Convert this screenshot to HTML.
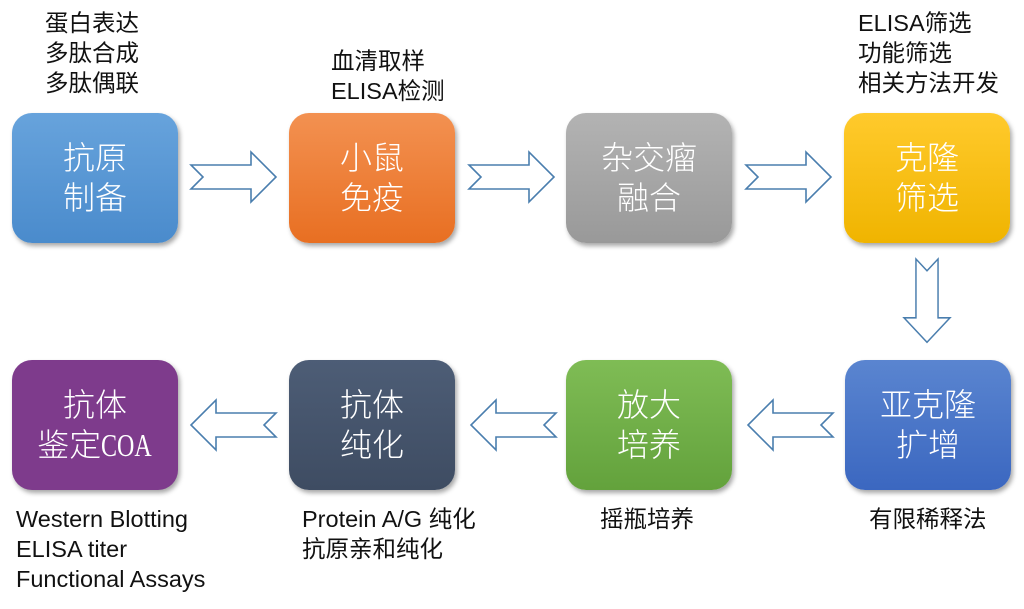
<!DOCTYPE html>
<html><head><meta charset="utf-8"><style>
html,body{margin:0;padding:0;background:#fff;}
body{width:1024px;height:609px;position:relative;overflow:hidden;font-family:"Liberation Sans","Noto Sans CJK SC",sans-serif;}
.box{position:absolute;width:166px;height:130px;border-radius:20px;color:#fff;font-size:32px;line-height:40px;display:flex;align-items:center;justify-content:center;text-align:center;box-shadow:2px 3px 5px rgba(0,0,0,0.35);font-weight:300;}
.lbl{position:absolute;font-size:23.5px;line-height:30px;color:#111;white-space:nowrap;}
.c{display:inline-block;transform:scaleX(0.75);transform-origin:left center;margin-right:-16px;font-family:"Liberation Serif",serif;}
svg{position:absolute;left:0;top:0;}
</style></head><body>
<div class="box" style="left:12px;top:113px;background:linear-gradient(#67a3dc,#4a8bcc);"><div>抗原<br>制备</div></div>
<div class="box" style="left:289px;top:113px;background:linear-gradient(#f39151,#e86f22);"><div>小鼠<br>免疫</div></div>
<div class="box" style="left:566px;top:113px;background:linear-gradient(#b3b3b3,#999);"><div>杂交瘤<br>融合</div></div>
<div class="box" style="left:844px;top:113px;background:linear-gradient(#ffca2c,#f0b400);"><div>克隆<br>筛选</div></div>
<div class="box" style="left:845px;top:360px;background:linear-gradient(#5a85d0,#3b67c0);"><div>亚克隆<br>扩增</div></div>
<div class="box" style="left:566px;top:360px;background:linear-gradient(#7fbc55,#63a23c);"><div>放大<br>培养</div></div>
<div class="box" style="left:289px;top:360px;background:linear-gradient(#4d5d76,#3e4c62);"><div>抗体<br>纯化</div></div>
<div class="box" style="left:12px;top:360px;background:#7e3b8c;"><div>抗体<br>鉴定<span class="c">COA</span></div></div>

<div class="lbl" style="left:45px;top:8px;">蛋白表达<br>多肽合成<br>多肽偶联</div>
<div class="lbl" style="left:331px;top:46px;">血清取样<br>ELISA检测</div>
<div class="lbl" style="left:858px;top:8px;">ELISA筛选<br>功能筛选<br>相关方法开发</div>
<div class="lbl" style="left:869px;top:504px;">有限稀释法</div>
<div class="lbl" style="left:600px;top:504px;">摇瓶培养</div>
<div class="lbl" style="left:302px;top:504px;">Protein A/G 纯化<br>抗原亲和纯化</div>
<div class="lbl" style="left:16px;top:504px;">Western Blotting<br>ELISA titer<br>Functional Assays</div>

<svg width="1024" height="609">
<defs>
<polygon id="ar" points="0,-12 60,-12 60,-25 85,0 60,25 60,12 0,12 12,0" fill="#fff" stroke="#4a7eae" stroke-width="1.6" stroke-linejoin="miter"/>
</defs>
<use href="#ar" transform="translate(191,177)"/>
<use href="#ar" transform="translate(469,177)"/>
<use href="#ar" transform="translate(746,177)"/>
<use href="#ar" transform="translate(927,259) rotate(90) scale(0.98,0.92)"/>
<use href="#ar" transform="translate(833,425) rotate(180)"/>
<use href="#ar" transform="translate(556,425) rotate(180)"/>
<use href="#ar" transform="translate(276,425) rotate(180)"/>
</svg>
</body></html>
